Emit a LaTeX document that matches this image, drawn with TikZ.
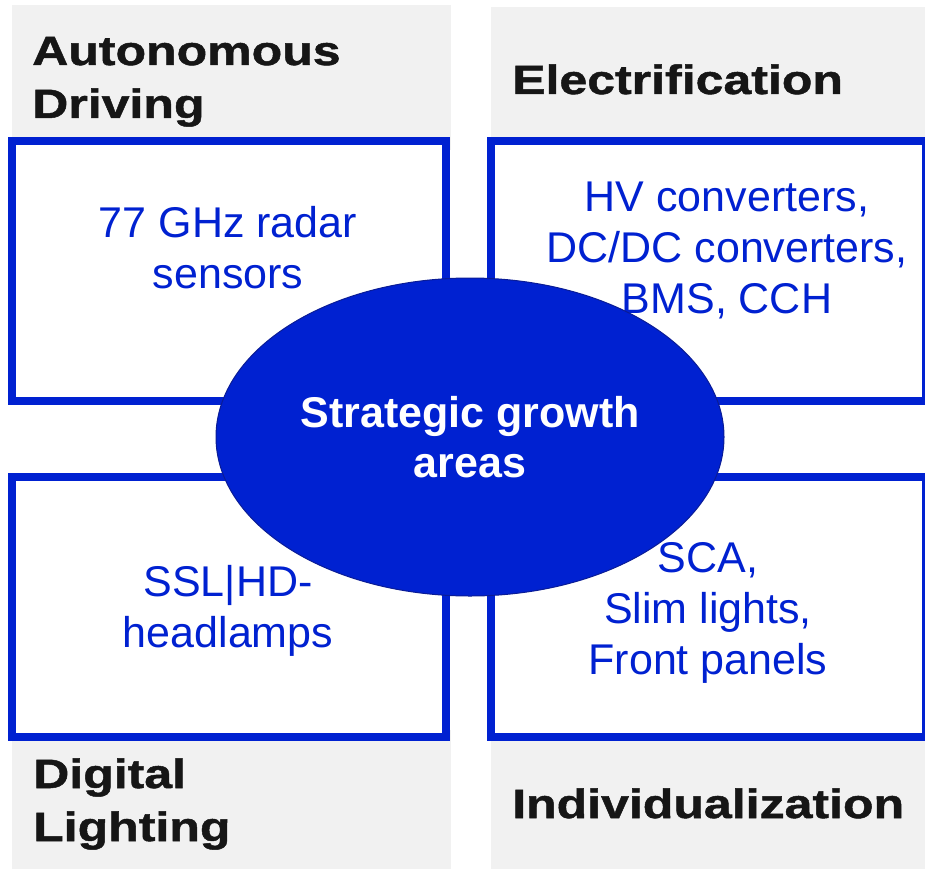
\documentclass[tikz,border=0pt]{standalone}
\usepackage{fontspec}
\setmainfont{Liberation Sans}
\newfontfamily\headfont[UprightFont={* Bold},FakeStretch=1.22,FakeBold=1.2]{Liberation Sans}
\usetikzlibrary{shapes.geometric}

\definecolor{areablue}{RGB}{0,33,209}
\definecolor{rimblue}{RGB}{10,28,150}
\definecolor{panelgrey}{RGB}{241,241,241}
\definecolor{headblack}{RGB}{22,22,22}

\begin{document}
\begin{tikzpicture}[x=1pt,y=-1pt,
    panel/.style={fill=panelgrey},
    areabox/.style={draw=areablue,line width=8pt,fill=white},
    heading/.style={anchor=base west,inner sep=0pt,align=left,text=headblack,
      font=\headfont\fontsize{41}{53}\selectfont},
    topic/.style={align=center,inner sep=0pt,text=areablue,
      font=\fontsize{43}{51}\selectfont},
    hub/.style={ellipse,draw=rimblue,line width=1pt,fill=areablue,
      minimum width=508pt,minimum height=318pt,inner sep=0pt,
      text=white,align=center,font=\bfseries\fontsize{43}{50}\selectfont}]

  \useasboundingbox (0,0) rectangle (925,869);

  % grey header and footer panels
  \fill[panel] (12,5) rectangle (451,150);
  \fill[panel] (491,7) rectangle (925,150);
  \fill[panel] (12,730) rectangle (451,869);
  \fill[panel] (491,730) rectangle (925,869);

  % the four fields
  \draw[areabox] (11.5,141) rectangle (446,401);
  \draw[areabox] (491,141) rectangle (926,401);
  \draw[areabox] (11.5,477) rectangle (446,736.5);
  \draw[areabox] (491,477) rectangle (926,736.5);

  % headings (base = last line)
  \node[heading] (drivehead) at (32,118) {Autonomous\\Driving};
  \node[heading] (elechead) at (512,94) {Electrification};
  \node[heading] (lighthead) at (33,841) {Digital\\Lighting};
  \node[heading] (indivhead) at (512,818) {Individualization};

  % contents of the fields
  \node[topic] (radar) at (228,247.5) {77 GHz radar\\sensors};
  \node[topic] (conv) at (727,250.5) {HV converters,\\DC/DC converters,\\BMS, CCH};
  \node[topic] (lamps) at (228,611) {SSL|HD-\\headlamps};
  \node[topic] (panels) at (708,612.5) {SCA,\\Slim lights,\\Front panels};

  % centre
  \node[hub] (growth) at (470,437) {Strategic growth\\areas};
\end{tikzpicture}
\end{document}
